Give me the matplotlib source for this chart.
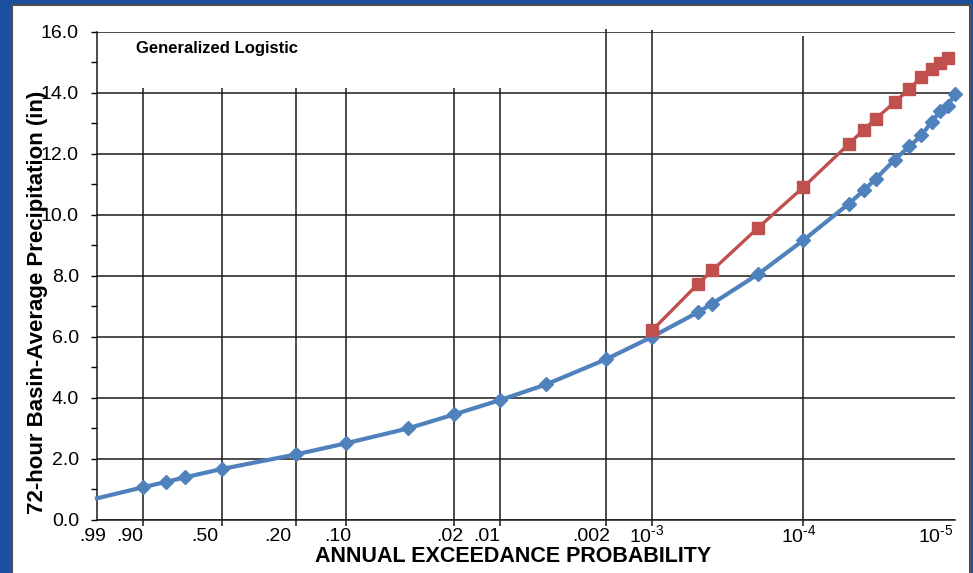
import numpy as np
import matplotlib
matplotlib.use("Agg")
import matplotlib.pyplot as plt
from matplotlib.patches import Rectangle
from matplotlib.transforms import blended_transform_factory, offset_copy

plt.rcParams['font.family'] = 'Liberation Sans'
plt.rcParams['mathtext.fontset'] = 'custom'
plt.rcParams['mathtext.rm'] = 'Liberation Sans'

# annual exceedance probabilities and 72-hour precipitation (in)
blue_p = [0.99, 0.9, 0.8, 0.7, 0.5, 0.2, 0.1, 0.04, 0.02, 0.01, 0.005, 0.002, 0.001,
          5e-4, 4e-4, 2e-4, 1e-4, 1/20000, 1/25000, 1/30000, 1/40000, 1/50000,
          1/60000, 1/70000, 1/80000, 1/90000, 1e-5]
blue_y = [0.71, 1.07, 1.25, 1.40, 1.67, 2.15, 2.51, 3.00, 3.46, 3.93, 4.44, 5.27, 6.00,
          6.80, 7.09, 8.05, 9.17, 10.37, 10.80, 11.18, 11.81, 12.24,
          12.60, 13.04, 13.40, 13.58, 13.97]

red_p = [0.001, 5e-4, 4e-4, 2e-4, 1e-4, 1/20000, 1/25000, 1/30000, 1/40000, 1/50000,
         1/60000, 1/70000, 1/80000, 1/90000]
red_y = [6.21, 7.72, 8.18, 9.57, 10.91, 12.33, 12.79, 13.15, 13.69, 14.13,
         14.51, 14.77, 14.97, 15.15]

grid_p = [0.9, 0.5, 0.2, 0.1, 0.02, 0.01, 0.002, 0.001, 1e-4]
grid_top = [14.15, 14.15, 14.15, 14.15, 14.15, 14.15, 16.1, 16.05, 15.85]

label_p = [0.99, 0.9, 0.5, 0.2, 0.1, 0.02, 0.01, 0.002, 0.001, 1e-4, 1e-5]
label_txt = ['.99', '.90', '.50', '.20', '.10', '.02', '.01', '.002',
             r'10$^{\text{-3}}$', r'10$^{\text{-4}}$', r'10$^{\text{-5}}$']
label_dx = [-4, -13, -17, -18, -8, -4, -13, -15, -5, -5, -19]


# Gumbel (EV1) probability axis, increasing with p so .99 sits on the left
def fwd(p):
    p = np.asarray(p, dtype=float)
    with np.errstate(all='ignore'):
        return np.log(-np.log1p(-p))


def inv(g):
    g = np.asarray(g, dtype=float)
    with np.errstate(all='ignore'):
        return -np.expm1(-np.exp(g))


fig = plt.figure(figsize=(9.73, 5.73), dpi=100, facecolor='#1d4f9f')
fig.patches.append(Rectangle((12/973, -0.02), 958/973, 1 - 5/573 + 0.02,
                             transform=fig.transFigure, facecolor='white',
                             edgecolor='#505050', lw=1.5, zorder=-5))

ax = fig.add_axes([97/973, 1 - 520/573, 858/973, 488.3/573])
ax.set_facecolor('white')
ax.set_xscale('function', functions=(fwd, inv))
ax.set_xlim(0.99, 1e-5)
ax.set_ylim(0, 16)

ax.set_yticks(np.arange(0, 17, 2))
ax.set_yticks(np.arange(1, 16, 2), minor=True)
ax.set_yticklabels([f'{v:.1f}' for v in np.arange(0, 17, 2)], fontsize=14)
ax.tick_params(axis='y', which='both', direction='out', length=4, width=1,
               color='black', pad=9)
ax.set_xticks([])
ax.set_xticks([], minor=True)
ax.yaxis.grid(True, color='#1a1a1a', lw=1.1)
ax.set_axisbelow(True)
for s in ['top', 'right']:
    ax.spines[s].set_visible(False)
for s in ['left', 'bottom']:
    ax.spines[s].set_color('#1a1a1a')
    ax.spines[s].set_linewidth(1.1)

ax.vlines(grid_p, -0.2, grid_top, color='#1a1a1a', lw=1.1, clip_on=False, zorder=1.5)

ax.plot(blue_p, blue_y, color='#4f81bd', lw=3, marker='D', ms=7.5,
        markevery=list(range(1, len(blue_p))), clip_on=False, zorder=3)
ax.plot(red_p, red_y, color='#c0504d', lw=2.4, marker='s', ms=9,
        clip_on=False, zorder=4)

trans = blended_transform_factory(ax.transData, ax.transAxes)
for p, t, dx in zip(label_p, label_txt, label_dx):
    ax.text(p, -0.033, t, transform=offset_copy(trans, fig=fig, x=dx, y=0, units='dots'),
            ha='center', va='center', fontsize=14)

ax.text((136 - 97)/858, (520 - 49)/488.3, 'Generalized Logistic', transform=ax.transAxes,
        fontsize=12, fontweight='bold', va='center', ha='left')

fig.text(38/973, 1 - 302/573, '72-hour Basin-Average Precipitation (in)', rotation=90,
         ha='center', va='center', fontsize=16, fontweight='bold')
fig.text(513/973, 1 - 557/573, 'ANNUAL EXCEEDANCE PROBABILITY',
         ha='center', va='center', fontsize=15.5, fontweight='bold')

fig.savefig('out.png', dpi=100, facecolor=fig.get_facecolor())
